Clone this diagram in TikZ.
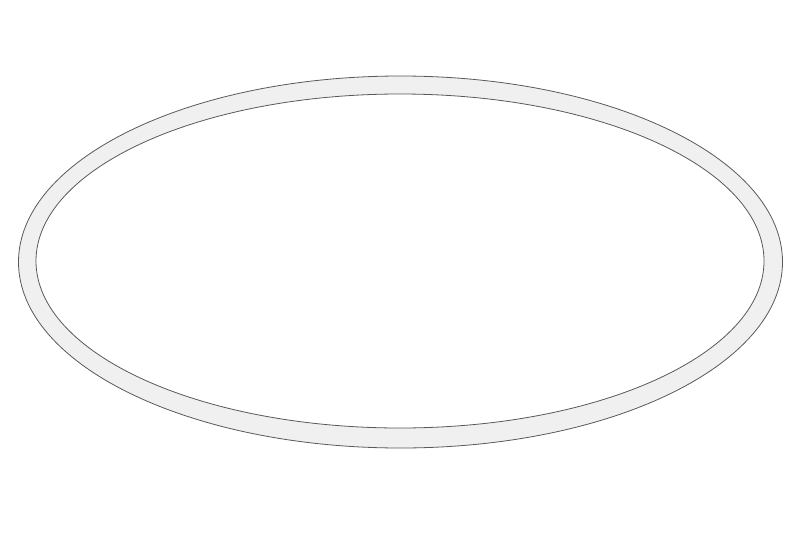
\documentclass[tikz,border=0pt]{standalone}
\begin{document}
\begin{tikzpicture}[x=1pt,y=-1pt,
  ringstyle/.style={fill=black!6, draw=black!65, line width=0.8pt, even odd rule}]
\useasboundingbox (0,0) rectangle (800,533);
\path[ringstyle] (400.5,262) ellipse [x radius=382, y radius=186]
                 (400,261) ellipse [x radius=364, y radius=167];
\end{tikzpicture}
\end{document}
